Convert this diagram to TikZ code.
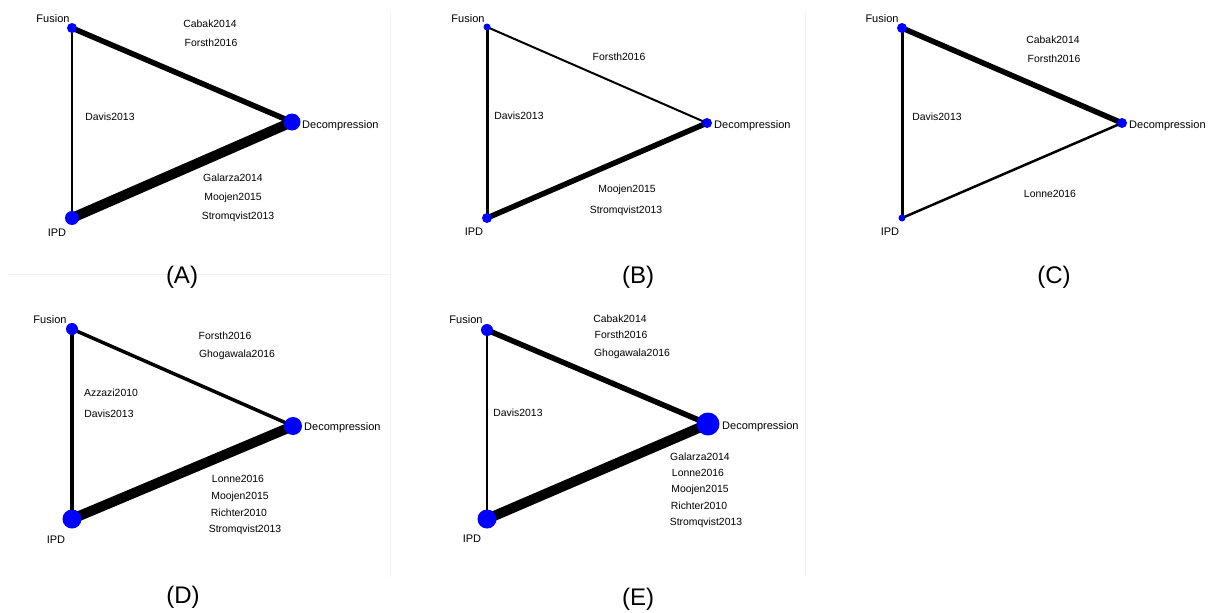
\documentclass[tikz,border=0pt]{standalone}
\usepackage{fontspec}
\setmainfont{Liberation Sans}
\usetikzlibrary{backgrounds}

\tikzset{
  vtx/.style={circle, fill=blue, draw=none, inner sep=0pt},
  lab/.style={font=\fontsize{11}{13}\selectfont, inner sep=0pt, text height=8pt, text depth=0pt},
  study/.style={font=\fontsize{10.4}{12}\selectfont, inner sep=0pt, text height=7.5pt, text depth=0pt},
  panel/.style={font=\fontsize{24}{28}\selectfont, inner sep=0pt, text height=17pt, text depth=0pt},
  sep/.style={gray!10, line width=0.8pt}
}

\begin{document}
\begin{tikzpicture}[x=1pt, y=-1pt]

\useasboundingbox (0,0) rectangle (1211,613);

% Faint panel rules
\draw[sep] (8,274) -- (390,274);
\draw[sep] (390,12) -- (390,577);
\draw[sep] (805,12) -- (805,577);

% Panel (A)
\node[vtx, minimum size=10pt] (aF) at (72,28) {};
\node[vtx, minimum size=14pt] (aI) at (72,218) {};
\node[vtx, minimum size=17pt] (aD) at (292,122) {};
\begin{scope}[on background layer]
  \draw[line width=2.7pt] (aF.center) -- (aI.center);
  \draw[line width=5.5pt] (aF.center) -- (aD.center);
  \draw[line width=10pt] (aI.center) -- (aD.center);
\end{scope}
\node[lab] (aFl) at (53,18) {Fusion};
\node[lab] (aIl) at (57,232) {IPD};
\node[lab, anchor=west] (aDl) at (302,124) {Decompression};
\node[study] (aS1) at (210,24) {Cabak2014};
\node[study] (aS2) at (211,43) {Forsth2016};
\node[study] (aS3) at (110,117) {Davis2013};
\node[study] (aS4) at (233,178) {Galarza2014};
\node[study] (aS5) at (233,197) {Moojen2015};
\node[study] (aS6) at (238,216) {Stromqvist2013};
\node[panel] (aP) at (182,275) {(A)};

% Panel (B)
\node[vtx, minimum size=7pt] (bF) at (487,27) {};
\node[vtx, minimum size=10pt] (bI) at (487,218) {};
\node[vtx, minimum size=10pt] (bD) at (707,123) {};
\begin{scope}[on background layer]
  \draw[line width=3pt] (bF.center) -- (bI.center);
  \draw[line width=2pt] (bF.center) -- (bD.center);
  \draw[line width=5.5pt] (bI.center) -- (bD.center);
\end{scope}
\node[lab] (bFl) at (468,19) {Fusion};
\node[lab] (bIl) at (474,231) {IPD};
\node[lab, anchor=west] (bDl) at (714,124) {Decompression};
\node[study] (bS1) at (619,57) {Forsth2016};
\node[study] (bS2) at (519,116) {Davis2013};
\node[study] (bS3) at (627,189) {Moojen2015};
\node[study] (bS4) at (626,210) {Stromqvist2013};
\node[panel] (bP) at (638,275) {(B)};

% Panel (C)
\node[vtx, minimum size=10pt] (cF) at (902,28) {};
\node[vtx, minimum size=7pt] (cI) at (902,218) {};
\node[vtx, minimum size=10pt] (cD) at (1122,123) {};
\begin{scope}[on background layer]
  \draw[line width=3pt] (cF.center) -- (cI.center);
  \draw[line width=5.5pt] (cF.center) -- (cD.center);
  \draw[line width=2.5pt] (cI.center) -- (cD.center);
\end{scope}
\node[lab] (cFl) at (882,18) {Fusion};
\node[lab] (cIl) at (890,231) {IPD};
\node[lab, anchor=west] (cDl) at (1129,124) {Decompression};
\node[study] (cS1) at (1053,40) {Cabak2014};
\node[study] (cS2) at (1054,59) {Forsth2016};
\node[study] (cS3) at (937,117) {Davis2013};
\node[study] (cS4) at (1050,194) {Lonne2016};
\node[panel] (cP) at (1054,275) {(C)};

% Panel (D)
\node[vtx, minimum size=12pt] (dF) at (72,329) {};
\node[vtx, minimum size=19pt] (dI) at (72,519) {};
\node[vtx, minimum size=18pt] (dD) at (293,426) {};
\begin{scope}[on background layer]
  \draw[line width=4pt] (dF.center) -- (dI.center);
  \draw[line width=3.5pt] (dF.center) -- (dD.center);
  \draw[line width=10pt] (dI.center) -- (dD.center);
\end{scope}
\node[lab] (dFl) at (50,319) {Fusion};
\node[lab] (dIl) at (56,539) {IPD};
\node[lab, anchor=west] (dDl) at (304,426) {Decompression};
\node[study] (dS1) at (225,336) {Forsth2016};
\node[study] (dS2) at (237,354) {Ghogawala2016};
\node[study] (dS3) at (111,393) {Azzazi2010};
\node[study] (dS4) at (109,414) {Davis2013};
\node[study] (dS5) at (238,479) {Lonne2016};
\node[study] (dS6) at (240,496) {Moojen2015};
\node[study] (dS7) at (239,513) {Richter2010};
\node[study] (dS8) at (245,529) {Stromqvist2013};
\node[panel] (dP) at (183,595) {(D)};

% Panel (E)
\node[vtx, minimum size=12pt] (eF) at (487,330) {};
\node[vtx, minimum size=19pt] (eI) at (487,519) {};
\node[vtx, minimum size=23pt] (eD) at (708,424) {};
\begin{scope}[on background layer]
  \draw[line width=1.3pt] (eF.center) -- (eI.center);
  \draw[line width=5.5pt] (eF.center) -- (eD.center);
  \draw[line width=10pt] (eI.center) -- (eD.center);
\end{scope}
\node[lab] (eFl) at (466,319) {Fusion};
\node[lab] (eIl) at (472,538) {IPD};
\node[lab, anchor=west] (eDl) at (722,425) {Decompression};
\node[study] (eS1) at (620,319) {Cabak2014};
\node[study] (eS2) at (621,335) {Forsth2016};
\node[study] (eS3) at (632,353) {Ghogawala2016};
\node[study] (eS4) at (518,413) {Davis2013};
\node[study] (eS5) at (700,457) {Galarza2014};
\node[study] (eS6) at (698,473) {Lonne2016};
\node[study] (eS7) at (700,489) {Moojen2015};
\node[study] (eS8) at (699,506) {Richter2010};
\node[study] (eS9) at (706,522) {Stromqvist2013};
\node[panel] (eP) at (638,597) {(E)};

\end{tikzpicture}
\end{document}
